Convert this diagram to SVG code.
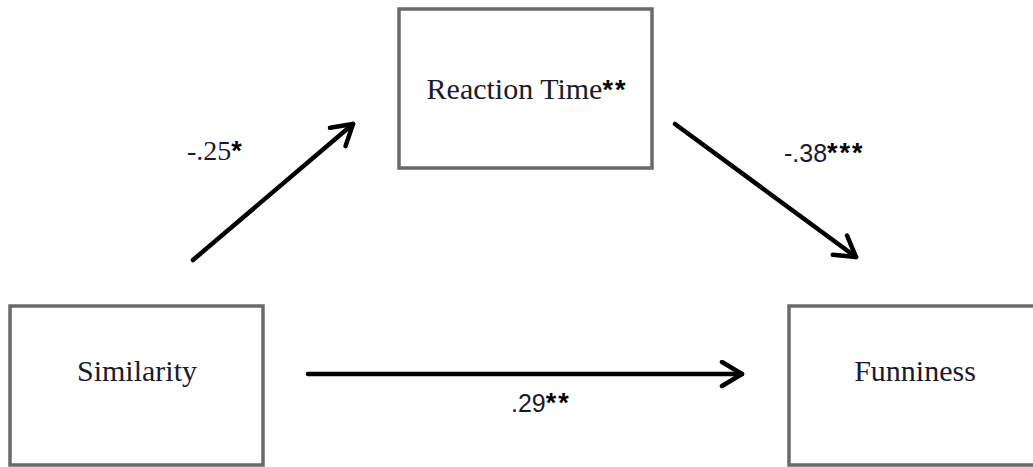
<svg xmlns="http://www.w3.org/2000/svg" width="1033" height="467" viewBox="0 0 1033 467">
  <style>
    .box { fill: #ffffff; stroke: #6a6a6a; stroke-width: 3.5; }
    .label { font-family: "Liberation Serif", "Times New Roman", serif; font-size: 30px; fill: #1a1a2e; text-anchor: middle; }
    .coef { font-family: "Liberation Sans", Arial, sans-serif; font-size: 25px; fill: #1a1a2e; }
    .coef-serif { font-family: "Liberation Serif", "Times New Roman", serif; font-size: 28px; fill: #1a1a2e; }
    .star { font-family: "Liberation Sans", Arial, sans-serif; font-size: 27px; font-weight: bold; letter-spacing: 2px; fill: #000000; }
    .arrow { fill: none; stroke: #000000; stroke-width: 4.5; stroke-linecap: round; marker-end: url(#head); }
  </style>
  <defs>
    <marker id="head" markerUnits="userSpaceOnUse" markerWidth="36" markerHeight="36" refX="23" refY="14" orient="auto">
      <path d="M3,2 L23,14 L3,26" fill="none" stroke="#000000" stroke-width="4.5" stroke-linecap="round" stroke-linejoin="round"/>
    </marker>
  </defs>

  <rect width="1033" height="467" fill="#ffffff"/>

  <g id="node-reaction-time">
    <rect class="box" x="399" y="9" width="253" height="159"/>
    <text class="label" x="527" y="99">Reaction Time<tspan class="star">**</tspan></text>
  </g>

  <g id="node-similarity">
    <rect class="box" x="10" y="306" width="253" height="159"/>
    <text class="label" x="137" y="381">Similarity</text>
  </g>

  <g id="node-funniness">
    <rect class="box" x="789" y="306" width="253" height="159"/>
    <text class="label" x="915" y="381">Funniness</text>
  </g>

  <g id="connectors">
    <line class="arrow" x1="193" y1="260" x2="353" y2="124"/>
    <line class="arrow" x1="675" y1="124" x2="856" y2="257"/>
    <line class="arrow" x1="308" y1="374" x2="742" y2="374"/>
  </g>

  <g id="coefficients">
    <text class="coef-serif" x="187" y="160">-.25<tspan class="star">*</tspan></text>
    <text class="coef" x="784" y="162">-.38<tspan class="star">***</tspan></text>
    <text class="coef" x="511" y="412">.29<tspan class="star">**</tspan></text>
  </g>
</svg>
